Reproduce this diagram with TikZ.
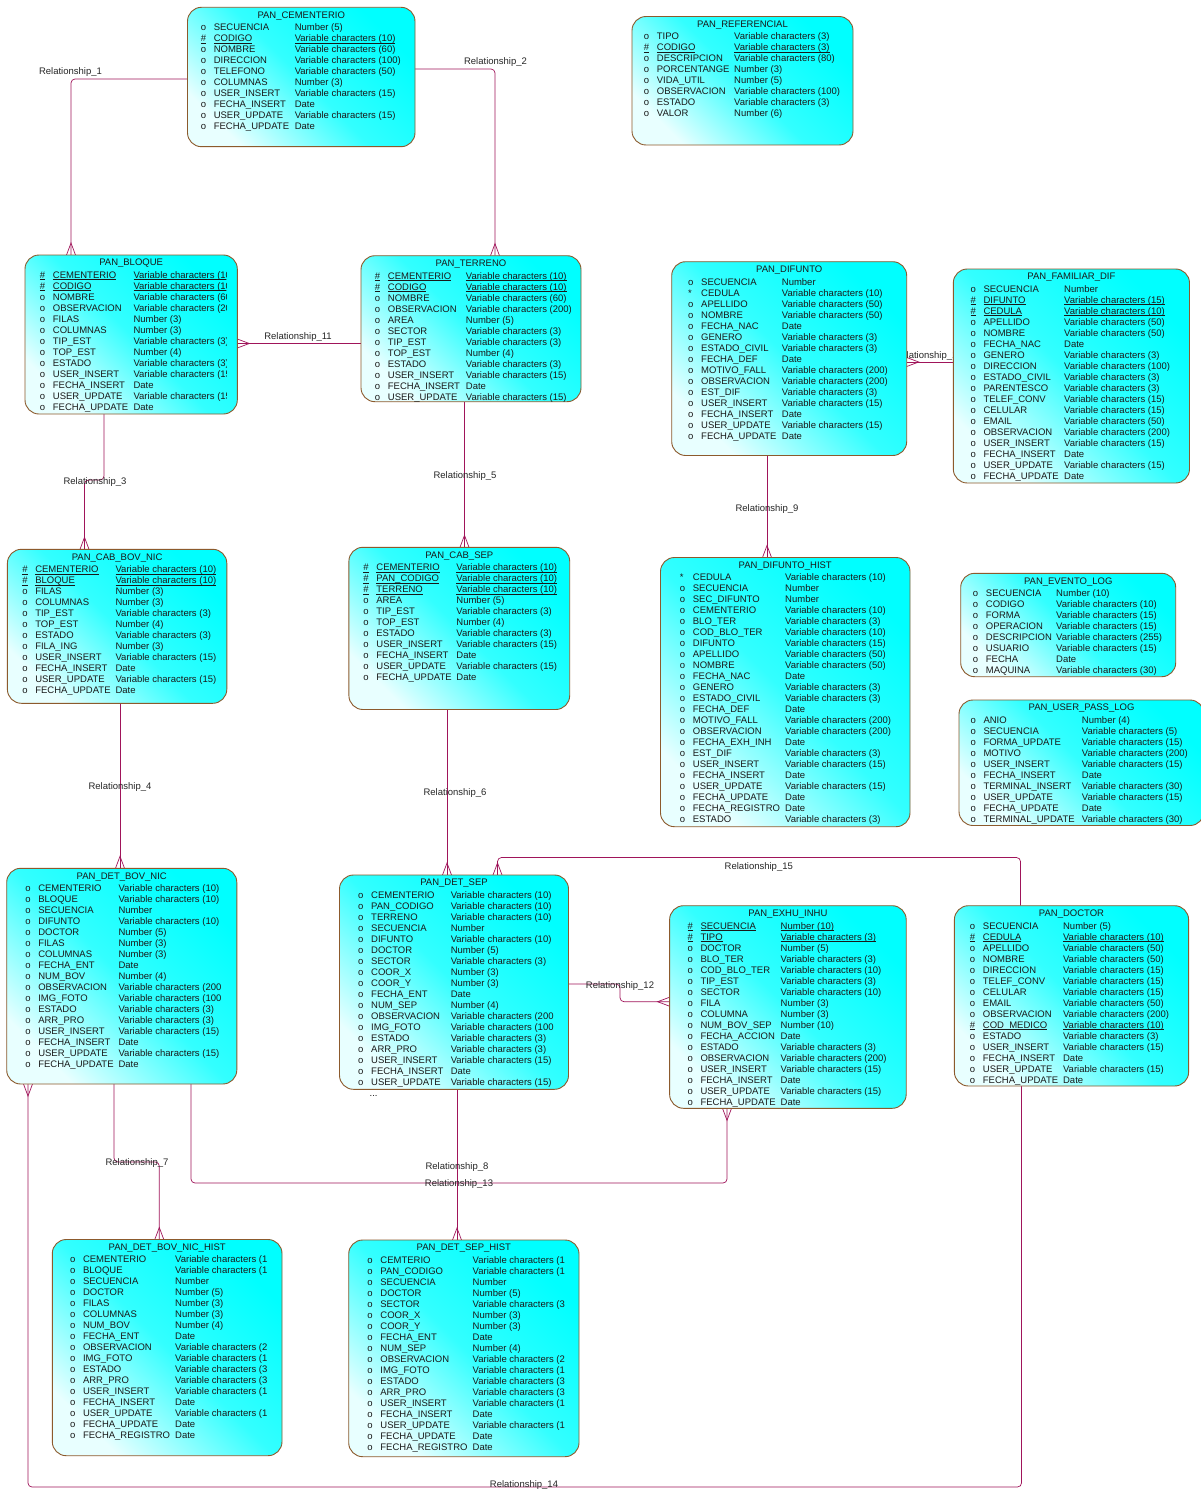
\documentclass[tikz,border=0pt]{standalone}
\usepackage{fontspec}
\setmainfont{Liberation Sans}
\usetikzlibrary{calc,backgrounds}
\definecolor{relc}{RGB}{160,20,90}
\definecolor{brd}{RGB}{140,90,45}
\definecolor{cyn}{RGB}{0,255,255}
\definecolor{lcyn}{RGB}{232,255,255}
\newsavebox\ulbx
\newcommand\ul[1]{\sbox\ulbx{#1}\rlap{\rule[-1.6pt]{\wd\ulbx}{0.55pt}}\usebox\ulbx}
\pgfdeclarelayer{bgzero}
\pgfdeclarelayer{conn}
\pgfsetlayers{bgzero,conn,main}
\tikzset{
 erbox/.style={draw=brd, line width=0.9pt, rounded corners=14pt, top color=cyn, bottom color=lcyn, middle color=cyn!78!lcyn, shading angle=-45, inner sep=0pt, outer sep=0pt},
 ertext/.style={font=\fontsize{9.5}{11}\selectfont, text=black!90, inner sep=0pt},
 rel/.style={draw=relc, line width=0.7pt, rounded corners=4pt},
 crowfoot/.style={draw=relc, line width=0.7pt},
 rlab/.style={font=\fontsize{9.5}{11}\selectfont, text=black!85, inner sep=0pt, anchor=base},
}
% #1 id, #2 x1, #3 y1, #4 x2, #5 y2, #6 name x, #7 type x, #8 title, #9 rows
\newcommand\ertable[9]{%
  \node[erbox, minimum width={#4-#2}, minimum height={#5-#3}, anchor=north west] (#1) at (#2,#3) {};
  \node[ertext, anchor=base] (#1-t) at ({(#2+#4)/2},{#3+10.9}) {#8};
  \begin{scope}
    \clip (#2,#3) rectangle ({#4-11},#5);
    \foreach \mk/\nm/\ty [count=\rr] in {#9}{%
      \pgfmathsetmacro\yb{#3+23.4+11*(\rr-1)}%
      \node[ertext, anchor=base west] (#1-m\rr) at ({#6-13},\yb) {\mk};
      \node[ertext, anchor=base west] (#1-n\rr) at (#6,\yb) {\nm};
      \node[ertext, anchor=base west] (#1-y\rr) at (#7,\yb) {\ty};
    }
  \end{scope}
}
\newcommand\crow[2]{%
  \pgfmathsetmacro\caa{#2+90}\pgfmathsetmacro\cab{#2-90}%
  \draw[crowfoot] ([shift={(\caa:4.5)}]#1) -- ([shift={(#2:12)}]#1) -- ([shift={(\cab:4.5)}]#1);
}
\begin{document}
\catcode`\_=12
\begin{tikzpicture}[x=1pt,y=-1pt]
\begin{pgfonlayer}{bgzero}
\fill[white] (0,0) rectangle (1200,1490);
\end{pgfonlayer}
\useasboundingbox (0,0) rectangle (1200,1490);

\ertable{cem}{187.5}{7.3}{415}{146.7}{213.6}{294.6}{PAN_CEMENTERIO}{o/SECUENCIA/Number (5), \ul{\#}/\ul{CODIGO}/\ul{Variable characters (10)}, o/NOMBRE/Variable characters (60), o/DIRECCION/Variable characters (100), o/TELEFONO/Variable characters (50), o/COLUMNAS/Number (3), o/USER_INSERT/Variable characters (15), o/FECHA_INSERT/Date, o/USER_UPDATE/Variable characters (15), o/FECHA_UPDATE/Date}

\ertable{ref}{632}{16.5}{853}{145}{656.7}{734}{PAN_REFERENCIAL}{o/TIPO/Variable characters (3), \ul{\#}/\ul{CODIGO}/\ul{Variable characters (3)}, o/DESCRIPCION/Variable characters (80), o/PORCENTANGE/Number (3), o/VIDA_UTIL/Number (5), o/OBSERVACION/Variable characters (100), o/ESTADO/Variable characters (3), o/VALOR/Number (6)}

\ertable{bloque}{25}{255}{237.3}{414}{52.7}{133.3}{PAN_BLOQUE}{\ul{\#}/\ul{CEMENTERIO}/\ul{Variable characters (10)}, \ul{\#}/\ul{CODIGO}/\ul{Variable characters (10)}, o/NOMBRE/Variable characters (60), o/OBSERVACION/Variable characters (200), o/FILAS/Number (3), o/COLUMNAS/Number (3), o/TIP_EST/Variable characters (3), o/TOP_EST/Number (4), o/ESTADO/Variable characters (3), o/USER_INSERT/Variable characters (15), o/FECHA_INSERT/Date, o/USER_UPDATE/Variable characters (15), o/FECHA_UPDATE/Date}

\ertable{terreno}{361}{255.7}{581}{401.7}{387.7}{465.7}{PAN_TERRENO}{\ul{\#}/\ul{CEMENTERIO}/\ul{Variable characters (10)}, \ul{\#}/\ul{CODIGO}/\ul{Variable characters (10)}, o/NOMBRE/Variable characters (60), o/OBSERVACION/Variable characters (200), o/AREA/Number (5), o/SECTOR/Variable characters (3), o/TIP_EST/Variable characters (3), o/TOP_EST/Number (4), o/ESTADO/Variable characters (3), o/USER_INSERT/Variable characters (15), o/FECHA_INSERT/Date, o/USER_UPDATE/Variable characters (15)}

\ertable{difunto}{671.7}{261.7}{906.7}{455.5}{701}{781.7}{PAN_DIFUNTO}{o/SECUENCIA/Number, */CEDULA/Variable characters (10), o/APELLIDO/Variable characters (50), o/NOMBRE/Variable characters (50), o/FECHA_NAC/Date, o/GENERO/Variable characters (3), o/ESTADO_CIVIL/Variable characters (3), o/FECHA_DEF/Date, o/MOTIVO_FALL/Variable characters (200), o/OBSERVACION/Variable characters (200), o/EST_DIF/Variable characters (3), o/USER_INSERT/Variable characters (15), o/FECHA_INSERT/Date, o/USER_UPDATE/Variable characters (15), o/FECHA_UPDATE/Date}

\ertable{familiar}{953.3}{269}{1189.5}{483}{983.3}{1064}{PAN_FAMILIAR_DIF}{o/SECUENCIA/Number, \ul{\#}/\ul{DIFUNTO}/\ul{Variable characters (15)}, \ul{\#}/\ul{CEDULA}/\ul{Variable characters (10)}, o/APELLIDO/Variable characters (50), o/NOMBRE/Variable characters (50), o/FECHA_NAC/Date, o/GENERO/Variable characters (3), o/DIRECCION/Variable characters (100), o/ESTADO_CIVIL/Variable characters (3), o/PARENTESCO/Variable characters (3), o/TELEF_CONV/Variable characters (15), o/CELULAR/Variable characters (15), o/EMAIL/Variable characters (50), o/OBSERVACION/Variable characters (200), o/USER_INSERT/Variable characters (15), o/FECHA_INSERT/Date, o/USER_UPDATE/Variable characters (15), o/FECHA_UPDATE/Date}

\ertable{cabbov}{7.4}{549.3}{226.8}{703.3}{35.1}{115.4}{PAN_CAB_BOV_NIC}{\ul{\#}/\ul{CEMENTERIO}/\ul{Variable characters (10)}, \ul{\#}/\ul{BLOQUE}/\ul{Variable characters (10)}, o/FILAS/Number (3), o/COLUMNAS/Number (3), o/TIP_EST/Variable characters (3), o/TOP_EST/Number (4), o/ESTADO/Variable characters (3), o/FILA_ING/Number (3), o/USER_INSERT/Variable characters (15), o/FECHA_INSERT/Date, o/USER_UPDATE/Variable characters (15), o/FECHA_UPDATE/Date}

\ertable{cabsep}{348.9}{547.3}{569.7}{709.5}{376.2}{456.2}{PAN_CAB_SEP}{\ul{\#}/\ul{CEMENTERIO}/\ul{Variable characters (10)}, \ul{\#}/\ul{PAN_CODIGO}/\ul{Variable characters (10)}, \ul{\#}/\ul{TERRENO}/\ul{Variable characters (10)}, o/AREA/Number (5), o/TIP_EST/Variable characters (3), o/TOP_EST/Number (4), o/ESTADO/Variable characters (3), o/USER_INSERT/Variable characters (15), o/FECHA_INSERT/Date, o/USER_UPDATE/Variable characters (15), o/FECHA_UPDATE/Date}

\ertable{difhist}{660.5}{557.5}{910}{826.7}{692.7}{785}{PAN_DIFUNTO_HIST}{*/CEDULA/Variable characters (10), o/SECUENCIA/Number, o/SEC_DIFUNTO/Number, o/CEMENTERIO/Variable characters (10), o/BLO_TER/Variable characters (3), o/COD_BLO_TER/Variable characters (10), o/DIFUNTO/Variable characters (15), o/APELLIDO/Variable characters (50), o/NOMBRE/Variable characters (50), o/FECHA_NAC/Date, o/GENERO/Variable characters (3), o/ESTADO_CIVIL/Variable characters (3), o/FECHA_DEF/Date, o/MOTIVO_FALL/Variable characters (200), o/OBSERVACION/Variable characters (200), o/FECHA_EXH_INH/Date, o/EST_DIF/Variable characters (3), o/USER_INSERT/Variable characters (15), o/FECHA_INSERT/Date, o/USER_UPDATE/Variable characters (15), o/FECHA_UPDATE/Date, o/FECHA_REGISTRO/Date, o/ESTADO/Variable characters (3)}

\ertable{evento}{960.7}{573.3}{1175.7}{676.7}{985.7}{1056}{PAN_EVENTO_LOG}{o/SECUENCIA/Number (10), o/CODIGO/Variable characters (10), o/FORMA/Variable characters (15), o/OPERACION/Variable characters (15), o/DESCRIPCION/Variable characters (255), o/USUARIO/Variable characters (15), o/FECHA/Date, o/MAQUINA/Variable characters (30)}

\ertable{userpass}{959}{700}{1204}{825.5}{983.3}{1081.7}{PAN_USER_PASS_LOG}{o/ANIO/Number (4), o/SECUENCIA/Variable characters (5), o/FORMA_UPDATE/Variable characters (15), o/MOTIVO/Variable characters (200), o/USER_INSERT/Variable characters (15), o/FECHA_INSERT/Date, o/TERMINAL_INSERT/Variable characters (30), o/USER_UPDATE/Variable characters (15), o/FECHA_UPDATE/Date, o/TERMINAL_UPDATE/Variable characters (30)}

\ertable{detbov}{6.7}{868.3}{236.8}{1084}{38.1}{118.4}{PAN_DET_BOV_NIC}{o/CEMENTERIO/Variable characters (10), o/BLOQUE/Variable characters (10), o/SECUENCIA/Number, o/DIFUNTO/Variable characters (10), o/DOCTOR/Number (5), o/FILAS/Number (3), o/COLUMNAS/Number (3), o/FECHA_ENT/Date, o/NUM_BOV/Number (4), o/OBSERVACION/Variable characters (200, o/IMG_FOTO/Variable characters (100, o/ESTADO/Variable characters (3), o/ARR_PRO/Variable characters (3), o/USER_INSERT/Variable characters (15), o/FECHA_INSERT/Date, o/USER_UPDATE/Variable characters (15), o/FECHA_UPDATE/Date}

\ertable{detsep}{339.5}{875}{568.5}{1089.3}{371}{450.6}{PAN_DET_SEP}{o/CEMENTERIO/Variable characters (10), o/PAN_CODIGO/Variable characters (10), o/TERRENO/Variable characters (10), o/SECUENCIA/Number, o/DIFUNTO/Variable characters (10), o/DOCTOR/Number (5), o/SECTOR/Variable characters (3), o/COOR_X/Number (3), o/COOR_Y/Number (3), o/FECHA_ENT/Date, o/NUM_SEP/Number (4), o/OBSERVACION/Variable characters (200, o/IMG_FOTO/Variable characters (100, o/ESTADO/Variable characters (3), o/ARR_PRO/Variable characters (3), o/USER_INSERT/Variable characters (15), o/FECHA_INSERT/Date, o/USER_UPDATE/Variable characters (15)}
\node[ertext, anchor=base west] (detsep-more) at (369.5,1096.5) {...};

\ertable{exhu}{669.6}{905.7}{906.2}{1108.3}{700.3}{780.5}{PAN_EXHU_INHU}{\ul{\#}/\ul{SECUENCIA}/\ul{Number (10)}, \ul{\#}/\ul{TIPO}/\ul{Variable characters (3)}, o/DOCTOR/Number (5), o/BLO_TER/Variable characters (3), o/COD_BLO_TER/Variable characters (10), o/TIP_EST/Variable characters (3), o/SECTOR/Variable characters (10), o/FILA/Number (3), o/COLUMNA/Number (3), o/NUM_BOV_SEP/Number (10), o/FECHA_ACCION/Date, o/ESTADO/Variable characters (3), o/OBSERVACION/Variable characters (200), o/USER_INSERT/Variable characters (15), o/FECHA_INSERT/Date, o/USER_UPDATE/Variable characters (15), o/FECHA_UPDATE/Date}

\ertable{doctor}{954.4}{905.7}{1188.6}{1086}{982.7}{1062.9}{PAN_DOCTOR}{o/SECUENCIA/Number (5), \ul{\#}/\ul{CEDULA}/\ul{Variable characters (10)}, o/APELLIDO/Variable characters (50), o/NOMBRE/Variable characters (50), o/DIRECCION/Variable characters (15), o/TELEF_CONV/Variable characters (15), o/CELULAR/Variable characters (15), o/EMAIL/Variable characters (50), o/OBSERVACION/Variable characters (200), \ul{\#}/\ul{COD_MEDICO}/\ul{Variable characters (10)}, o/ESTADO/Variable characters (3), o/USER_INSERT/Variable characters (15), o/FECHA_INSERT/Date, o/USER_UPDATE/Variable characters (15), o/FECHA_UPDATE/Date}

\ertable{detbovh}{52.3}{1239.5}{282}{1455.7}{82.8}{175}{PAN_DET_BOV_NIC_HIST}{o/CEMENTERIO/Variable characters (1, o/BLOQUE/Variable characters (1, o/SECUENCIA/Number, o/DOCTOR/Number (5), o/FILAS/Number (3), o/COLUMNAS/Number (3), o/NUM_BOV/Number (4), o/FECHA_ENT/Date, o/OBSERVACION/Variable characters (2, o/IMG_FOTO/Variable characters (1, o/ESTADO/Variable characters (3, o/ARR_PRO/Variable characters (3, o/USER_INSERT/Variable characters (1, o/FECHA_INSERT/Date, o/USER_UPDATE/Variable characters (1, o/FECHA_UPDATE/Date, o/FECHA_REGISTRO/Date}

\ertable{detseph}{348.7}{1240}{579}{1456.7}{380.2}{472.5}{PAN_DET_SEP_HIST}{o/CEMTERIO/Variable characters (1, o/PAN_CODIGO/Variable characters (1, o/SECUENCIA/Number, o/DOCTOR/Number (5), o/SECTOR/Variable characters (3, o/COOR_X/Number (3), o/COOR_Y/Number (3), o/FECHA_ENT/Date, o/NUM_SEP/Number (4), o/OBSERVACION/Variable characters (2, o/IMG_FOTO/Variable characters (1, o/ESTADO/Variable characters (3, o/ARR_PRO/Variable characters (3, o/USER_INSERT/Variable characters (1, o/FECHA_INSERT/Date, o/USER_UPDATE/Variable characters (1, o/FECHA_UPDATE/Date, o/FECHA_REGISTRO/Date}

\begin{pgfonlayer}{conn}
% attachment points
\coordinate (r1a) at (cem.west |- 0,79);
\coordinate (r1b) at (bloque.north -| 71,0);
\coordinate (r2a) at (cem.east |- 0,69);
\coordinate (r2b) at (terreno.north -| 495,0);
\coordinate (r11a) at (terreno.west |- 0,343.5);
\coordinate (r11b) at (bloque.east |- 0,343.5);
\coordinate (r3a) at (bloque.south -| 104,0);
\coordinate (r3b) at (cabbov.north -| 84.5,0);
\coordinate (r5a) at (terreno.south -| 464.5,0);
\coordinate (r5b) at (cabsep.north -| 464.5,0);
\coordinate (r9a) at (difunto.south -| 767,0);
\coordinate (r9b) at (difhist.north -| 767,0);
\coordinate (r10a) at (familiar.west |- 0,362);
\coordinate (r10b) at (difunto.east |- 0,362);
\coordinate (r4a) at (cabbov.south -| 120,0);
\coordinate (r4b) at (detbov.north -| 120,0);
\coordinate (r6a) at (cabsep.south -| 447,0);
\coordinate (r6b) at (detsep.north -| 447,0);
\coordinate (r15a) at (doctor.north -| 1020.5,0);
\coordinate (r15b) at (detsep.north -| 497.5,0);
\coordinate (r12a) at (detsep.east |- 0,984);
\coordinate (r12b) at (exhu.west |- 0,1001.7);
\coordinate (r7a) at (detbov.south -| 114,0);
\coordinate (r7b) at (detbovh.north -| 159.3,0);
\coordinate (r13a) at (detbov.south -| 191,0);
\coordinate (r13b) at (exhu.south -| 727,0);
\coordinate (r8a) at (detsep.south -| 457,0);
\coordinate (r8b) at (detseph.north -| 457,0);
\coordinate (r14a) at (doctor.south -| 1021.5,0);
\coordinate (r14b) at (detbov.south -| 28,0);

\draw[rel] (r1a) -| (r1b);
\draw[rel] (r2a) -| (r2b);
\draw[rel] (r11a) -- (r11b);
\draw[rel] (r3a) -- (r3a |- 0,480) -| (r3b);
\draw[rel] (r5a) -- (r5b);
\draw[rel] (r9a) -- (r9b);
\draw[rel] (r10a) -- (r10b);
\draw[rel] (r4a) -- (r4b);
\draw[rel] (r6a) -- (r6b);
\draw[rel] (r15a) |- (r15b |- 0,857.5) -- (r15b);
\draw[rel] (r12a) -| (620,992) |- (r12b);
\draw[rel] (r7a) |- (137,1162) -| (r7b);
\draw[rel] (r13a) |- (459,1183) -| (r13b);
\draw[rel] (r8a) -- (r8b);
\draw[rel] (r14a) |- (524,1487) -| (r14b);

\crow{r1b}{-90}
\crow{r2b}{-90}
\crow{r11b}{0}
\crow{r3b}{-90}
\crow{r5b}{-90}
\crow{r9b}{-90}
\crow{r10b}{0}
\crow{r4b}{-90}
\crow{r6b}{-90}
\crow{r15b}{-90}
\crow{r12b}{180}
\crow{r7b}{-90}
\crow{r13b}{90}
\crow{r8b}{-90}
\crow{r14b}{90}

\node[rlab] (l1) at (70.5,74.4) {Relationship_1};
\node[rlab] (l2) at (495.5,64.4) {Relationship_2};
\node[rlab] (l11) at (298,339.4) {Relationship_11};
\node[rlab] (l3) at (95,484.4) {Relationship_3};
\node[rlab] (l5) at (465,478.4) {Relationship_5};
\node[rlab] (l9) at (767,511.4) {Relationship_9};
\node[rlab] (l10) at (928.6,358.4) {Relationship_10};
\node[rlab] (l4) at (120,789.4) {Relationship_4};
\node[rlab] (l6) at (455,795.4) {Relationship_6};
\node[rlab] (l15) at (758.8,869.1) {Relationship_15};
\node[rlab] (l12) at (620,988.4) {Relationship_12};
\node[rlab] (l7) at (137,1165.4) {Relationship_7};
\node[rlab] (l13) at (459,1186.4) {Relationship_13};
\node[rlab] (l8) at (457,1169.4) {Relationship_8};
\node[rlab] (l14) at (524,1487.4) {Relationship_14};
\end{pgfonlayer}
\end{tikzpicture}
\end{document}
